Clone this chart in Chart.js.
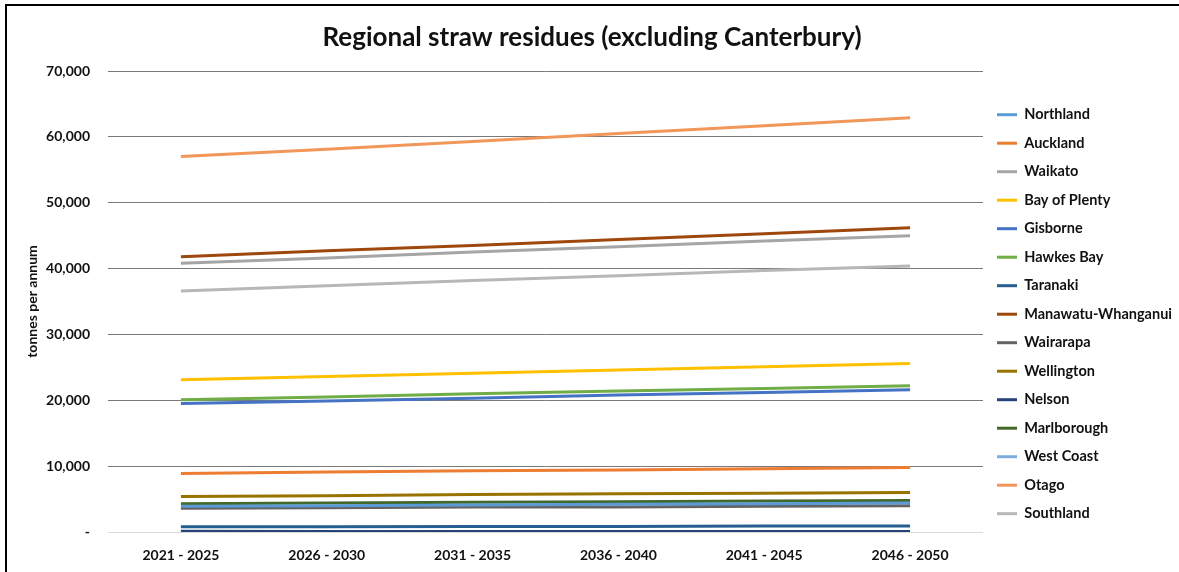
<!DOCTYPE html>
<html>
<head>
<meta charset="utf-8">
<script src="https://cdn.jsdelivr.net/npm/chart.js@4/dist/chart.umd.min.js"></script>
<style>
  html, body { margin: 0; padding: 0; background: #fff; }
  #wrap { width: 1179px; height: 572px; }
</style>
</head>
<body>
<div id="wrap"><canvas id="c" width="1179" height="572"></canvas></div>
<script>
const periods = ['2021 - 2025', '2026 - 2030', '2031 - 2035', '2036 - 2040', '2041 - 2045', '2046 - 2050'];

const northland   = [3900, 4000, 4100, 4200, 4300, 4400];
const auckland    = [8900, 9100, 9300, 9400, 9600, 9800];
const waikato     = [40800, 41600, 42500, 43300, 44200, 45000];
const bayOfPlenty = [23100, 23600, 24100, 24600, 25100, 25600];
const gisborne    = [19500, 19900, 20300, 20800, 21200, 21600];
const hawkesBay   = [20100, 20500, 21000, 21400, 21800, 22200];
const taranaki    = [800, 800, 850, 850, 900, 900];
const manawatu    = [41800, 42700, 43500, 44400, 45300, 46200];
const wairarapa   = [3600, 3700, 3800, 3800, 3900, 4000];
const wellington  = [5400, 5500, 5700, 5800, 5900, 6000];
const nelson      = [100, 80, 80, 80, 80, 80];
const marlborough = [4300, 4400, 4500, 4600, 4700, 4800];
const westCoast   = [40, 80, 80, 80, 80, 80];
const otago       = [57000, 58100, 59300, 60500, 61700, 62900];
const southland   = [36600, 37400, 38200, 38900, 39700, 40400];

const regionNames = ['Northland', 'Auckland', 'Waikato', 'Bay of Plenty', 'Gisborne', 'Hawkes Bay', 'Taranaki',
  'Manawatu-Whanganui', 'Wairarapa', 'Wellington', 'Nelson', 'Marlborough', 'West Coast', 'Otago', 'Southland'];
const regionValues = [northland, auckland, waikato, bayOfPlenty, gisborne, hawkesBay, taranaki,
  manawatu, wairarapa, wellington, nelson, marlborough, westCoast, otago, southland];
const regionColors = ['#5B9BD5', '#ED7D31', '#A5A5A5', '#FFC000', '#4472C4', '#70AD47', '#255E91',
  '#9E480E', '#636363', '#997300', '#264478', '#43682B', '#7CAFDD', '#F1975A', '#B7B7B7'];

const yTicks = [0, 10000, 20000, 30000, 40000, 50000, 60000, 70000];

const FONT = 'Lato, "Open Sans", sans-serif';
const INK = '#111';

const framePlugin = {
  id: 'frame',
  afterDraw(chart) {
    const ctx = chart.ctx;
    ctx.save();
    ctx.strokeStyle = '#000';
    ctx.lineWidth = 2;
    ctx.beginPath();
    ctx.moveTo(6, 572);
    ctx.lineTo(6, 5);
    ctx.lineTo(1179, 5);
    ctx.stroke();
    ctx.restore();
  }
};

new Chart(document.getElementById('c'), {
  type: 'line',
  data: {
    labels: periods,
    datasets: regionNames.map((name, i) => ({
      label: name,
      data: regionValues[i],
      borderColor: regionColors[i],
      backgroundColor: regionColors[i],
      borderWidth: 3,
      pointRadius: 0,
      tension: 0,
      fill: false
    }))
  },
  options: {
    responsive: false,
    animation: false,
    layout: { padding: { top: 8, left: 2, right: -3, bottom: 8 } },
    plugins: {
      title: {
        display: true,
        text: 'Regional straw residues (excluding Canterbury)',
        color: INK,
        font: { family: FONT, size: 26, weight: 'bold' },
        padding: { top: 14.4, bottom: 17.4 }
      },
      legend: {
        position: 'right',
        align: 'center',
        title: { display: true, text: ' ', font: { size: 12 }, padding: 21 },
        labels: {
          color: INK,
          font: { family: FONT, size: 14.5, weight: 'bold' },
          boxWidth: 20,
          boxHeight: 3,
          padding: 14,
          generateLabels(chart) {
            const items = Chart.defaults.plugins.legend.labels.generateLabels(chart);
            items.forEach(it => { it.lineWidth = 0; });
            return items;
          }
        }
      },
      tooltip: { enabled: false }
    },
    scales: {
      x: {
        offset: true,
        grid: { display: false, drawTicks: false },
        border: { display: true, color: '#d9d9d9' },
        ticks: { color: INK, font: { family: FONT, size: 14, weight: 'bold' }, padding: 14.6, maxRotation: 0 },
        afterFit(axis) { axis.height = 32; }
      },
      y: {
        min: 0,
        max: 70000,
        afterBuildTicks(axis) { axis.ticks = yTicks.map(v => ({ value: v })); },
        afterFit(axis) { axis.width = 106; },
        grid: {
          drawTicks: false,
          color: ctx => (ctx.tick && ctx.tick.value === 0) ? '#d9d9d9' : '#7a7a7a',
          lineWidth: 1
        },
        border: { display: false },
        title: {
          display: true,
          text: 'tonnes per annum',
          color: INK,
          font: { family: FONT, size: 14, weight: 'bold' },
          padding: { top: 22, bottom: 4 }
        },
        ticks: {
          color: INK,
          font: { family: FONT, size: 14, weight: 'bold' },
          padding: 18,
          callback: v => v === 0 ? '-' : v.toLocaleString('en-US')
        }
      }
    }
  },
  plugins: [framePlugin]
});
</script>
</body>
</html>
